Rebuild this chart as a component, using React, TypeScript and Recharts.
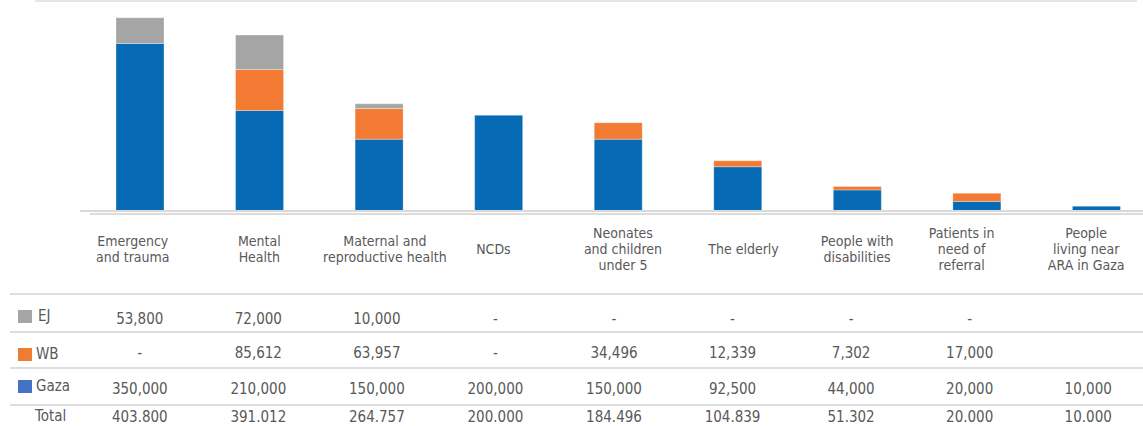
import React from 'react';
import { BarChart, Bar, XAxis, YAxis } from 'recharts';

// categories (line breaks as in the figure)
const CATEGORIES = [
  'Emergency\nand trauma',
  'Mental\nHealth',
  'Maternal and\nreproductive health',
  'NCDs',
  'Neonates\nand children\nunder 5',
  'The elderly',
  'People with\ndisabilities',
  'Patients in\nneed of\nreferral',
  'People\nliving near\nARA in Gaza',
];

const GAZA = [350000, 210000, 150000, 200000, 150000, 92500, 44000, 20000, 10000];
const WB = [0, 85612, 63957, 0, 34496, 12339, 7302, 17000, 0];
const EJ = [53800, 72000, 10000, 0, 0, 0, 0, 0, 0];

// table text as printed under the chart
const EJ_TEXT = ['53,800', '72,000', '10,000', '-', '-', '-', '-', '-', ''];
const WB_TEXT = ['-', '85,612', '63,957', '-', '34,496', '12,339', '7,302', '17,000', ''];
const GAZA_TEXT = ['350,000', '210,000', '150,000', '200,000', '150,000', '92,500', '44,000', '20,000', '10,000'];
const TOTAL_TEXT = ['403.800', '391.012', '264.757', '200.000', '184.496', '104.839', '51.302', '20.000', '10.000'];

const BLUE = '#066bb4';
const ORANGE = '#f37a33';
const GREY = '#a5a5a5';
const TEXT = '#595959';
const FONT = '"Liberation Sans Narrow", "DejaVu Sans Condensed", "Liberation Sans", sans-serif';

const data = CATEGORIES.map((name, i) => ({ name, Gaza: GAZA[i], WB: WB[i], EJ: EJ[i] }));

// small hand nudges of the labels, as in the original layout
const LABEL_SHIFT = [-7, 0, 6, -5, 5, 6, 0, -15, -10];

const rows = [
  { text: EJ_TEXT, y: 318 },
  { text: WB_TEXT, y: 352 },
  { text: GAZA_TEXT, y: 388 },
  { text: TOTAL_TEXT, y: 416 },
];

const CategoryTick = (props: any) => {
  const { x, payload } = props;
  const i = payload?.index ?? props.index ?? 0;
  const lines = String(payload.value).split('\n');
  const lx = x + LABEL_SHIFT[i];
  const lineH = 16;
  const top = 249 - ((lines.length - 1) * lineH) / 2;
  const tx = x - i;
  return (
    <g fontFamily={FONT} fill={TEXT}>
      <text textAnchor="middle" fontSize={14}>
        {lines.map((l, k) => (
          <tspan key={k} x={lx} y={top + k * lineH + 5}>{l}</tspan>
        ))}
      </text>
      {rows.map((r, k) => (
        <text key={k} x={tx} y={r.y + 5.5} textAnchor="middle" fontSize={15}>{r.text[i]}</text>
      ))}
    </g>
  );
};

const legendRows = [
  { label: 'EJ', color: GREY, y: 310, tx: 38 },
  { label: 'WB', color: '#ed7d31', y: 348, tx: 36 },
  { label: 'Gaza', color: '#4472c4', y: 380, tx: 36 },
];

const LINES_Y = [293, 331, 367, 404];

export default function App() {
  return (
    <div style={{ position: 'absolute', left: 0, top: 0, width: 1143, height: 426, overflow: 'hidden', background: '#fff', fontFamily: FONT, color: TEXT }}>
      <div style={{ position: 'absolute', left: 35, top: 0, width: 1102, height: 2, background: '#e6e6e6' }} />
      <div style={{ position: 'absolute', left: 90, top: 213, width: 1053, height: 2, background: '#dcdcdc' }} />
      {LINES_Y.map((y) => (
        <div key={y} style={{ position: 'absolute', left: 10, top: y, width: 1133, height: 2, background: '#dedede' }} />
      ))}
      {legendRows.map((r) => (
        <React.Fragment key={r.label}>
          <div style={{ position: 'absolute', left: 18, top: r.y, width: 14, height: 13, background: r.color }} />
          <div style={{ position: 'absolute', left: r.tx, top: r.y - 4, fontSize: 15, lineHeight: '20px' }}>{r.label}</div>
        </React.Fragment>
      ))}
      <div style={{ position: 'absolute', left: 35, top: 406, fontSize: 15, lineHeight: '20px' }}>Total</div>
      <div style={{ position: 'absolute', left: 0, top: 0 }}>
        <BarChart width={1160} height={426} data={data} margin={{ top: 10, right: 4, left: 80, bottom: 0 }}>
          <YAxis hide domain={[0, 420000]} />
          <XAxis
            dataKey="name"
            height={215}
            interval={0}
            tickLine={false}
            axisLine={{ stroke: '#d9d9d9', strokeWidth: 2 }}
            tick={<CategoryTick />}
          />
          <Bar dataKey="Gaza" stackId="s" fill={BLUE} barSize={48} stroke="#ffffff" strokeOpacity={0.5} strokeWidth={0.6} isAnimationActive={false} />
          <Bar dataKey="WB" stackId="s" fill={ORANGE} barSize={48} stroke="#ffffff" strokeOpacity={0.5} strokeWidth={0.6} isAnimationActive={false} />
          <Bar dataKey="EJ" stackId="s" fill={GREY} barSize={48} stroke="#ffffff" strokeOpacity={0.5} strokeWidth={0.6} isAnimationActive={false} />
        </BarChart>
      </div>
    </div>
  );
}
